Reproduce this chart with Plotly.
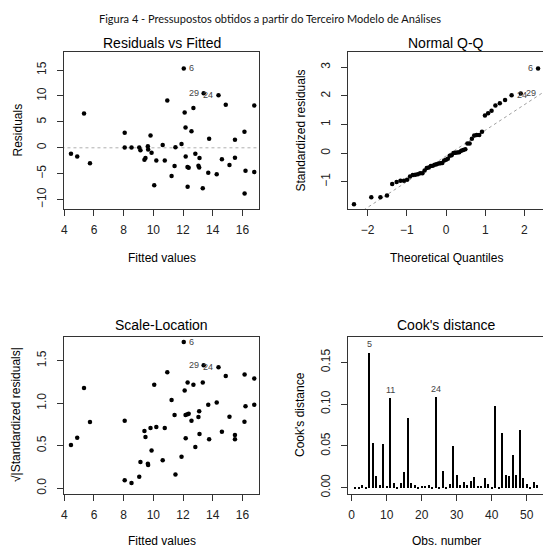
import plotly.graph_objects as go
import numpy as np
from statistics import NormalDist

# ---------------- data ----------------
fitted = [4.45, 4.87, 5.33, 5.73, 8.07, 8.07, 8.53, 9.05, 9.13, 9.40,
          9.47, 9.63, 9.65, 9.81, 9.88, 10.06, 10.20, 10.63, 10.77, 10.94,
          11.23, 11.43, 11.49, 11.90, 12.05, 12.11, 12.17, 12.18, 12.31, 12.30,
          12.38, 12.57, 12.70, 12.83, 13.04, 13.09, 13.11, 13.33, 13.39, 13.70,
          13.76, 14.27, 14.39, 14.62, 14.88, 15.13, 15.50, 15.50, 16.14, 16.15,
          16.21, 16.80, 16.80]
residuals = [-1.16, -1.67, 6.62, -2.96, 2.89, 0.06, 0.06, 0.06, -0.45, -2.31,
             -1.99, 0.32, -0.32, 2.38, -0.96, -7.20, -2.44, 0.55, -2.44, 9.13,
             -5.46, -3.53, 0.10, 0.71, 15.30, 6.81, 3.92, -1.67, -7.52, -3.72,
             -3.86, 3.21, 7.65, -1.16, -3.47, -3.79, -1.99, -7.78, 10.54, -4.82,
             1.74, -5.08, 10.15, -2.19, 8.29, -3.34, 1.54, -1.93, 3.08, -8.80,
             -4.43, 8.16, -4.69]
sqrt_abs_std_resid = [0.509, 0.595, 1.179, 0.779, 0.795, 0.094, 0.063, 0.137, 0.309, 0.674,
                      0.603, 0.290, 0.274, 0.709, 0.443, 1.218, 0.721, 0.329, 0.709, 1.363,
                      1.038, 0.862, 0.161, 0.372, 1.720, 1.148, 0.862, 0.588, 1.242, 0.870,
                      0.877, 0.795, 1.218, 0.486, 0.838, 0.905, 0.638, 1.242, 1.445, 0.983,
                      0.576, 1.007, 1.422, 0.666, 1.320, 0.842, 0.576, 0.627, 0.783, 1.336,
                      0.964, 1.289, 0.983]
point_ids = [""] * 53
point_ids[24] = "6"
point_ids[38] = "29"
point_ids[42] = "24"

obs_number = list(range(1, 54))
cooks_distance = [0.0010, 0.0020, 0.0035, 0.0010, 0.1620, 0.0536, 0.0148, 0.0044, 0.0524, 0.0030,
                  0.1076, 0.0064, 0.0010, 0.0064, 0.0200, 0.0836, 0.0064, 0.0044, 0.0020, 0.0024,
                  0.0024, 0.0044, 0.0016, 0.1088, 0.0016, 0.0210, 0.0020, 0.0056, 0.0508, 0.0164,
                  0.0036, 0.0080, 0.0044, 0.0088, 0.0140, 0.0028, 0.0032, 0.0120, 0.0056, 0.0020,
                  0.0984, 0.0020, 0.0664, 0.0164, 0.0148, 0.0392, 0.0164, 0.0692, 0.0128, 0.0056,
                  0.0012, 0.0076, 0.0044]
cooks_ids = {5: "5", 11: "11", 24: "24"}

fit_ticks = [4, 6, 8, 10, 12, 14, 16]
res_ticks = [-10, -5, 0, 5, 10, 15]
qq_xticks = [-2, -1, 0, 1, 2]
qq_yticks = [-1, 0, 1, 2, 3]
sl_ticks = [0.0, 0.5, 1.0, 1.5]
sl_ticktext = ["0.0", "0.5", "1.0", "1.5"]
obs_ticks = [0, 10, 20, 30, 40, 50]
cook_ticks = [0.0, 0.05, 0.10, 0.15]
cook_ticktext = ["0.00", "0.05", "0.10", "0.15"]

# ------------- derived quantities (as plot.lm does) -------------
std_resid = [np.sign(r) * s ** 2 for r, s in zip(residuals, sqrt_abs_std_resid)]
n = len(std_resid)
order = np.argsort(std_resid)
sr_sorted = [std_resid[i] for i in order]
ids_sorted = [point_ids[i] for i in order]
theo_q = [NormalDist().inv_cdf((i + 0.5) / n) for i in range(n)]
y25, y75 = np.percentile(std_resid, [25, 75])
x25, x75 = NormalDist().inv_cdf(0.25), NormalDist().inv_cdf(0.75)
slope = (y75 - y25) / (x75 - x25)
intercept = y25 - slope * x25

# ---------------- layout helpers ----------------
W, H = 543, 549
def px(x):
    return x / W
def py(y):
    return 1 - y / H

AX = "#333333"
FONT = "Liberation Sans, Arial, sans-serif"

fig = go.Figure()

mk = dict(color="black", size=4.5)

# Residuals vs Fitted
fig.add_trace(go.Scatter(x=[3, 18], y=[0, 0], mode="lines",
                         line=dict(color="#b0b0b0", width=1, dash="dot"),
                         xaxis="x", yaxis="y", hoverinfo="skip"))
fig.add_trace(go.Scatter(x=fitted, y=residuals, mode="markers", marker=mk,
                         xaxis="x", yaxis="y"))

# Normal Q-Q
fig.add_trace(go.Scatter(x=[-3, 3], y=[intercept - 3 * slope, intercept + 3 * slope],
                         mode="lines", line=dict(color="#a0a0a0", width=1, dash="dot"),
                         xaxis="x2", yaxis="y2", hoverinfo="skip"))
fig.add_trace(go.Scatter(x=theo_q, y=sr_sorted, mode="markers", marker=mk,
                         xaxis="x2", yaxis="y2"))

# Scale-Location
fig.add_trace(go.Scatter(x=fitted, y=sqrt_abs_std_resid, mode="markers", marker=mk,
                         xaxis="x3", yaxis="y3"))

# Cook's distance
fig.add_trace(go.Bar(x=obs_number, y=cooks_distance, width=0.3,
                     marker=dict(color="black", line=dict(width=0)),
                     xaxis="x4", yaxis="y4"))

left_x = [px(64), px(259)]
right_x = [px(347.7), 1.0]
top_y = [py(209), py(52)]
bot_y = [py(493.5), py(336.5)]

def xax(domain, anchor, rng, ticks, ticktext=None):
    d = dict(domain=domain, anchor=anchor, range=rng, tickvals=ticks,
             ticks="outside", ticklen=6, tickcolor=AX, tickwidth=1,
             showline=True, linecolor=AX, linewidth=1, mirror=True,
             showgrid=False, zeroline=False, automargin=False,
             tickfont=dict(size=12, color="#222", family=FONT),
             ticklabelstandoff=4)
    if ticktext:
        d["ticktext"] = ticktext
    return d

def yax(domain, anchor, rng, ticks, mirror, ticktext=None):
    d = dict(domain=domain, anchor=anchor, range=rng, tickvals=ticks,
             ticks="outside", ticklen=6, tickcolor=AX, tickwidth=1,
             showline=True, linecolor=AX, linewidth=1, mirror=mirror,
             showgrid=False, zeroline=False, tickangle=-90, automargin=False,
             tickfont=dict(size=12, color="#222", family=FONT),
             ticklabelstandoff=6)
    if ticktext:
        d["ticktext"] = ticktext
    return d

fig.update_layout(
    width=W, height=H,
    margin=dict(l=0, r=0, t=0, b=0, autoexpand=False),
    paper_bgcolor="white", plot_bgcolor="white",
    showlegend=False,
    font=dict(family=FONT, color="black"),
    xaxis=xax(left_x, "y", [3.98, 17.12], fit_ticks),
    yaxis=yax(top_y, "x", [-11.8, 18.47], res_ticks, True),
    xaxis2=xax(right_x, "y2", [-2.508, 2.474], qq_xticks),
    yaxis2=yax(top_y, "x2", [-1.955, 3.535], qq_yticks, False),
    xaxis3=xax(left_x, "y3", [3.98, 17.12], fit_ticks),
    yaxis3=yax(bot_y, "x3", [-0.061, 1.784], sl_ticks, True, sl_ticktext),
    xaxis4=xax(right_x, "y4", [-1.14, 54.66], obs_ticks),
    yaxis4=yax(bot_y, "x4", [-0.0069, 0.1809], cook_ticks, False, cook_ticktext),
    bargap=0,
)

ann = []
def text(x, y, s, size, color="black", family=FONT, angle=0, xanchor="center", yanchor="middle"):
    ann.append(dict(x=px(x), y=py(y), xref="paper", yref="paper", text=s, showarrow=False,
                    font=dict(size=size, color=color, family=family), textangle=angle,
                    xanchor=xanchor, yanchor=yanchor))

text(270, 18, "Figura 4 - Pressupostos obtidos a partir do Terceiro Modelo de Análises", 11,
     color="#111", family="Lato, Open Sans, sans-serif")
# panel titles
text(161.5, 43, "Residuals vs Fitted", 14)
text(446, 43, "Normal Q-Q", 14)
text(161.5, 325, "Scale-Location", 14)
text(446, 325, "Cook's distance", 14)
# axis titles
text(161.5, 258, "Fitted values", 12)
text(446, 258, "Theoretical Quantiles", 12)
text(161.5, 541, "Fitted values", 12)
text(446, 541, "Obs. number", 12)
text(18, 130.5, "Residuals", 12, angle=-90)
text(301, 130.5, "Standardized residuals", 12, angle=-90)
text(16, 415, "√|Standardized residuals|", 12, angle=-90)
text(300, 415, "Cook's distance", 12, angle=-90)
fig.update_layout(annotations=ann)

# point identification labels (left/right as plot.lm places them)
def id_labels(xs, ys, ids, xa, ya):
    pts = [(x, y, s) for x, y, s in zip(xs, ys, ids) if s]
    mid = (min(p[0] for p in pts) + max(p[0] for p in pts)) / 2
    for x, y, s in pts:
        right = x <= mid
        fig.add_annotation(x=x, y=y, xref=xa, yref=ya, text=s, showarrow=False,
                           font=dict(size=9, color="#444", family=FONT),
                           xanchor="left" if right else "right",
                           xshift=3 if right else -3, yanchor="middle")

id_labels(fitted, residuals, point_ids, "x", "y")
id_labels(theo_q, sr_sorted, ids_sorted, "x2", "y2")
id_labels(fitted, sqrt_abs_std_resid, point_ids, "x3", "y3")
for k, s in cooks_ids.items():
    fig.add_annotation(x=k, y=cooks_distance[k - 1], xref="x4", yref="y4", text=s,
                       showarrow=False, font=dict(size=9, color="#444", family=FONT),
                       yanchor="bottom", yshift=1)

fig.write_html("out.html", config={"displayModeBar": False},
               post_script="document.body.style.margin='0';document.body.style.padding='0';")
